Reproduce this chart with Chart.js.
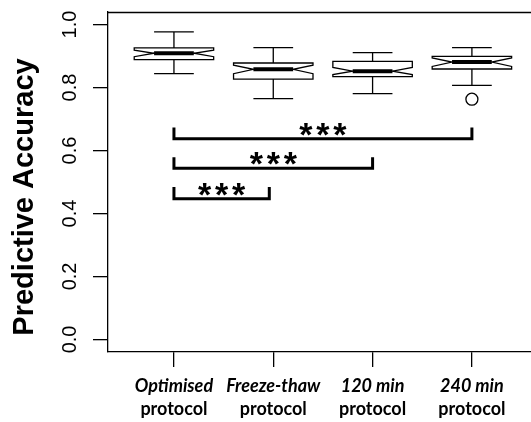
<!DOCTYPE html>
<html>
<head>
<meta charset="utf-8">
<script src="https://cdn.jsdelivr.net/npm/chart.js@4/dist/chart.umd.min.js"></script>
<style>
    html, body { margin: 0; padding: 0; background: #fff; overflow: hidden; }
    #wrap { position: relative; width: 531px; height: 422px; }
</style>
</head>
<body>
<div id="wrap"><canvas id="chart" width="531" height="422"></canvas></div>
<script>
// groups (x = 1..4)
const groupTop = ['Optimised', 'Freeze-thaw', '120 min', '240 min'];
const groupBottom = ['protocol', 'protocol', 'protocol', 'protocol'];

// box plot stats
const whiskerHigh = [0.977, 0.927, 0.911, 0.927];
const upperHinge  = [0.926, 0.878, 0.883, 0.899];
const notchHigh   = [0.919, 0.871, 0.864, 0.894];
const medians     = [0.909, 0.858, 0.852, 0.881];
const notchLow    = [0.898, 0.844, 0.841, 0.867];
const lowerHinge  = [0.889, 0.827, 0.835, 0.859];
const whiskerLow  = [0.844, 0.765, 0.781, 0.807];
const outlierX = [4];
const outlierY = [0.763];

// significance brackets
const bracketFrom = [1, 1, 1];
const bracketTo   = [4, 3, 1.96];
const bracketY    = [0.637, 0.544, 0.447];
const bracketTip  = [0.673, 0.579, 0.484];
const bracketText = ['***', '***', '***'];

// axis ticks
const yTicks = [0, 0.2, 0.4, 0.6, 0.8, 1.0];
const yTickLabels = ['0.0', '0.2', '0.4', '0.6', '0.8', '1.0'];
const xTicks = [1, 2, 3, 4];
const yTitle = 'Predictive Accuracy';

const boxHalf = 0.4;

const bracketSets = bracketFrom.map((from, i) => ({
    data: [
        { x: from, y: bracketTip[i] },
        { x: from, y: bracketY[i] },
        { x: bracketTo[i], y: bracketY[i] },
        { x: bracketTo[i], y: bracketTip[i] }
    ],
    showLine: true,
    borderColor: '#000',
    borderWidth: 3,
    pointRadius: 0,
    borderJoinStyle: 'miter',
    borderCapStyle: 'butt',
    tension: 0
}));

const outlierSet = {
    data: outlierX.map((x, i) => ({ x: x, y: outlierY[i] })),
    pointRadius: 6,
    pointBorderWidth: 1.3,
    pointBackgroundColor: '#fff',
    pointBorderColor: '#000',
    showLine: false
};

const boxPlugin = {
    id: 'boxes',
    afterDatasetsDraw(chart) {
        const ctx = chart.ctx;
        const xs = chart.scales.x, ys = chart.scales.y;
        ctx.save();
        ctx.strokeStyle = '#000';
        ctx.lineWidth = 1.3;
        medians.forEach((m, i) => {
            const c = i + 1;
            const xl = xs.getPixelForValue(c - boxHalf);
            const xr = xs.getPixelForValue(c + boxHalf);
            const ml = xs.getPixelForValue(c - boxHalf / 2);
            const mr = xs.getPixelForValue(c + boxHalf / 2);
            const y = v => ys.getPixelForValue(v);

            // whiskers and caps
            ctx.beginPath();
            ctx.moveTo(xs.getPixelForValue(c), y(whiskerHigh[i]));
            ctx.lineTo(xs.getPixelForValue(c), y(upperHinge[i]));
            ctx.moveTo(xs.getPixelForValue(c), y(lowerHinge[i]));
            ctx.lineTo(xs.getPixelForValue(c), y(whiskerLow[i]));
            ctx.moveTo(ml, y(whiskerHigh[i]));
            ctx.lineTo(mr, y(whiskerHigh[i]));
            ctx.moveTo(ml, y(whiskerLow[i]));
            ctx.lineTo(mr, y(whiskerLow[i]));
            ctx.stroke();

            // notched box
            ctx.beginPath();
            ctx.moveTo(xl, y(lowerHinge[i]));
            ctx.lineTo(xl, y(notchLow[i]));
            ctx.lineTo(ml, y(m));
            ctx.lineTo(xl, y(notchHigh[i]));
            ctx.lineTo(xl, y(upperHinge[i]));
            ctx.lineTo(xr, y(upperHinge[i]));
            ctx.lineTo(xr, y(notchHigh[i]));
            ctx.lineTo(mr, y(m));
            ctx.lineTo(xr, y(notchLow[i]));
            ctx.lineTo(xr, y(lowerHinge[i]));
            ctx.closePath();
            ctx.fillStyle = '#fff';
            ctx.fill();
            ctx.stroke();

            // median
            ctx.lineWidth = 4;
            ctx.beginPath();
            ctx.moveTo(ml, y(m));
            ctx.lineTo(mr, y(m));
            ctx.stroke();
            ctx.lineWidth = 1.3;
        });
        ctx.restore();
    },
    afterDraw(chart) {
        const ctx = chart.ctx;
        const xs = chart.scales.x, ys = chart.scales.y;
        const area = chart.chartArea;
        ctx.save();
        ctx.fillStyle = '#000';

        // top frame line
        ctx.strokeStyle = '#000';
        ctx.lineWidth = 1.3;
        ctx.beginPath();
        ctx.moveTo(area.left, Math.round(area.top) + 0.5);
        ctx.lineTo(area.right, Math.round(area.top) + 0.5);
        ctx.stroke();

        // stars over brackets
        ctx.font = 'bold 34px "Liberation Sans"';
        ctx.textAlign = 'center';
        ctx.textBaseline = 'alphabetic';
        bracketText.forEach((t, i) => {
            const cx = xs.getPixelForValue((bracketFrom[i] + bracketTo[i]) / 2);
            const ly = ys.getPixelForValue(bracketY[i]);
            const n = t.length;
            for (let k = 0; k < n; k++) {
                ctx.fillText(t[k], cx + (k - (n - 1) / 2) * 17, ly + 7);
            }
        });

        // y tick labels, rotated like R
        ctx.font = '20px "Liberation Sans"';
        yTicks.forEach((v, i) => {
            ctx.save();
            ctx.translate(76, ys.getPixelForValue(v));
            ctx.rotate(-Math.PI / 2);
            ctx.textAlign = 'center';
            ctx.fillText(yTickLabels[i], 0, 0);
            ctx.restore();
        });

        // y title
        ctx.save();
        ctx.translate(33, 197);
        ctx.rotate(-Math.PI / 2);
        ctx.font = 'bold 29px "Liberation Sans"';
        ctx.textAlign = 'center';
        ctx.fillText(yTitle, 0, 0);
        ctx.restore();

        // x labels, two lines
        xTicks.forEach((v, i) => {
            const px = xs.getPixelForValue(v);
            ctx.textAlign = 'center';
            ctx.font = 'italic bold 18px Lato';
            ctx.fillText(groupTop[i], px, 392);
            ctx.font = 'bold 18px Lato';
            ctx.fillText(groupBottom[i], px, 415);
        });
        ctx.restore();
    }
};

new Chart(document.getElementById('chart'), {
    type: 'scatter',
    data: { datasets: [...bracketSets, outlierSet] },
    options: {
        responsive: false,
        animation: false,
        layout: { autoPadding: false, padding: { top: 12, left: 0, right: 0, bottom: 0 } },
        plugins: { legend: { display: false }, tooltip: { enabled: false } },
        scales: {
            x: {
                type: 'linear',
                min: 0.336,
                max: 4.595,
                afterBuildTicks: s => { s.ticks = xTicks.map(v => ({ value: v })); },
                afterFit: s => { s.height = 70; },
                ticks: { display: false },
                grid: { drawOnChartArea: false, drawTicks: true, tickLength: 15, color: '#000', lineWidth: 1.3 },
                border: { display: true, color: '#000', width: 1.3 }
            },
            y: {
                type: 'linear',
                min: -0.04,
                max: 1.04,
                afterBuildTicks: s => { s.ticks = yTicks.map(v => ({ value: v })); },
                afterFit: s => { s.width = 108; },
                ticks: { display: false },
                grid: { drawOnChartArea: false, drawTicks: true, tickLength: 15, color: '#000', lineWidth: 1.3 },
                border: { display: true, color: '#000', width: 1.3 }
            }
        }
    },
    plugins: [boxPlugin]
});
</script>
</body>
</html>
